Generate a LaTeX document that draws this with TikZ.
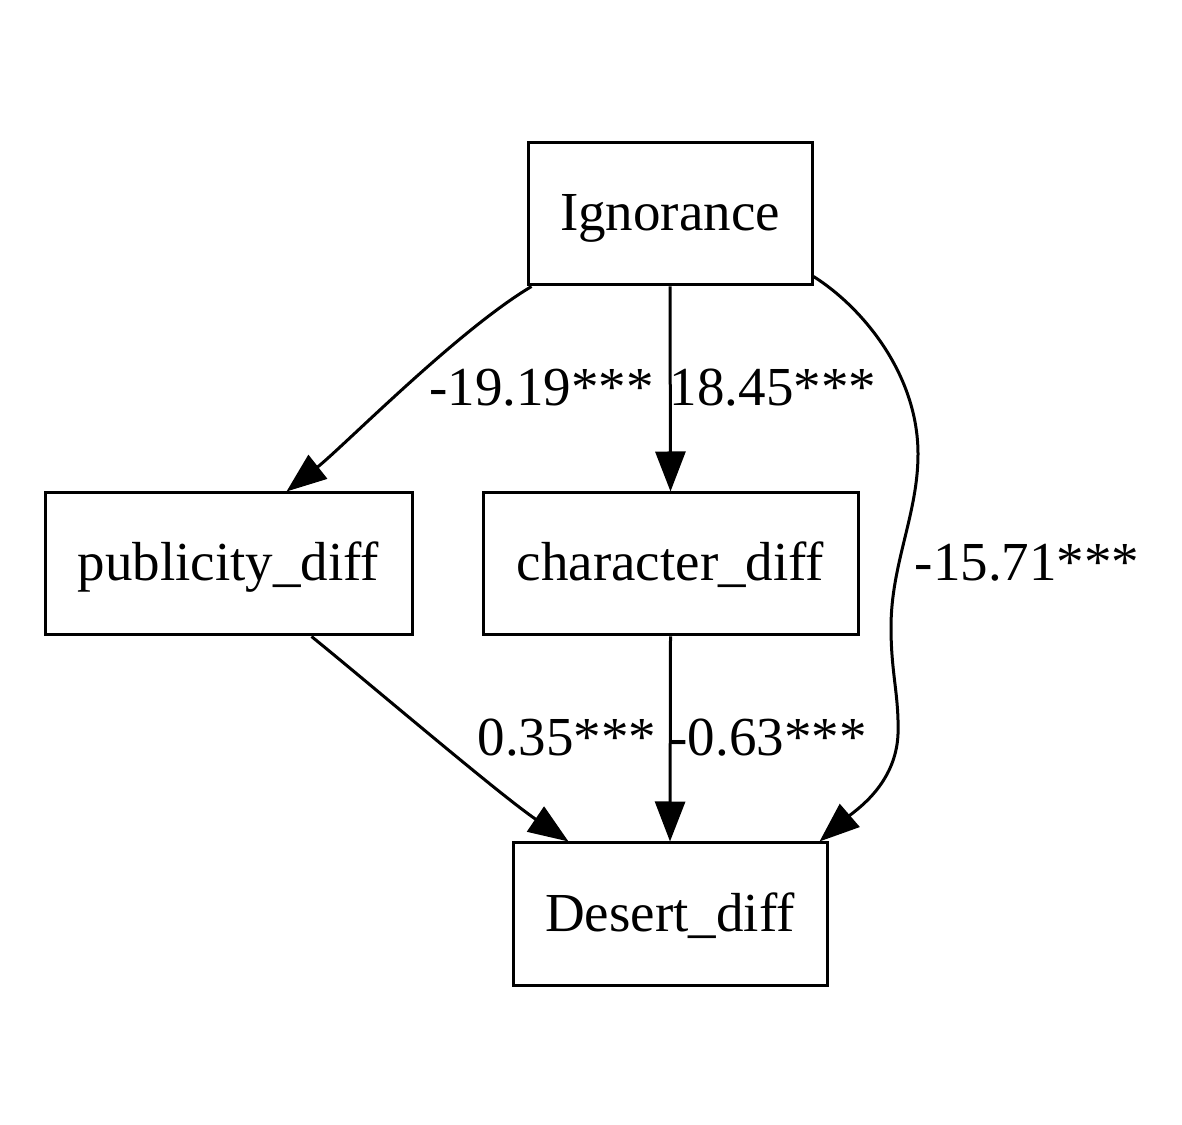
\documentclass[tikz,border=0pt]{standalone}
\usepackage{fontspec}
\setmainfont{Liberation Serif}
\usetikzlibrary{arrows.meta}
\begin{document}
\begin{tikzpicture}[x=1pt,y=1pt,
  box/.style={draw=black, line width=3pt, inner sep=0pt, minimum height=142pt,
    font=\fontsize{55}{66}\selectfont, text height=34pt, text depth=0pt},
  lbl/.style={inner sep=0pt, anchor=base, font=\fontsize{55}{66}\selectfont},
  edge/.style={draw=black, line width=3pt, -{Triangle[length=40pt,width=30pt]}}]
\useasboundingbox (0,0) rectangle (1182,1124);
\node[box, minimum width=284pt] (ig) at (670,910) {Ignorance};
\node[box, minimum width=367pt] (pub) at (228.5,560) {publicity\_diff};
\node[box, minimum width=375pt] (chr) at (670.5,560) {character\_diff};
\node[box, minimum width=314pt] (des) at (670,210) {Desert\_diff};
% edges
\draw[edge] ([xshift=5pt]ig.south west) .. controls (458,794) and (343,677) .. ([xshift=243pt]pub.north west);
\draw[edge] (ig.south) -- (chr.north);
\draw[edge] ([yshift=10pt]ig.south east) .. controls (862,817) and (918,750) .. (918,670)
  .. controls (918,610) and (891,560) .. (891,497)
  .. controls (891,450) and (899,430) .. (898,390)
  .. controls (896,340) and (856,314) .. ([xshift=-9pt]des.north east);
\draw[edge] ([xshift=-102pt]pub.south east) .. controls (370,440) and (500,329) .. ([xshift=57pt]des.north west);
\draw[edge] (chr.south) -- (des.north);
% labels
\node[lbl] (l1) at (541.5,718) {-19.19***};
\node[lbl] (l2) at (773,718) {18.45***};
\node[lbl] (l3) at (1027,543) {-15.71***};
\node[lbl] (l4) at (567,368) {0.35***};
\node[lbl] (l5) at (768,368) {-0.63***};
\end{tikzpicture}
\end{document}
